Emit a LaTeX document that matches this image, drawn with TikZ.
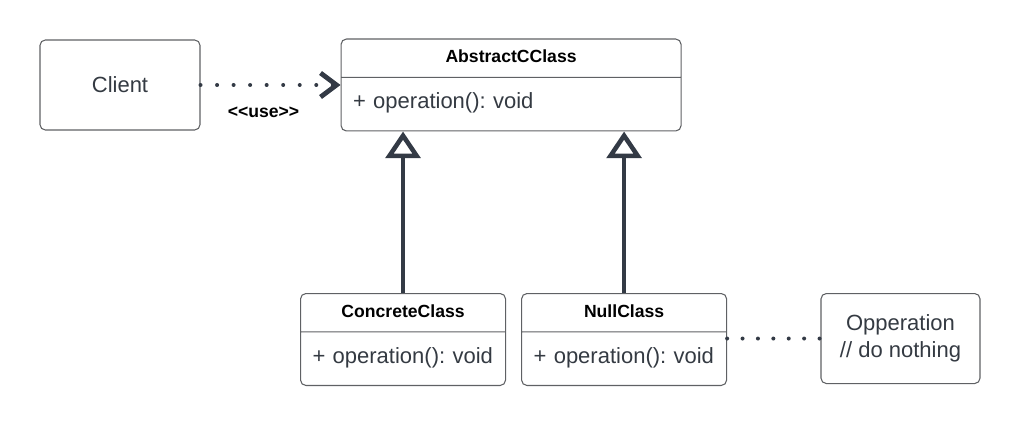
\documentclass[tikz,border=0pt]{standalone}
\usepackage{fontspec}
\setmainfont{Liberation Sans}
\usetikzlibrary{arrows.meta, positioning, shapes.multipart}

\definecolor{linegray}{RGB}{51,58,69}
\definecolor{boxgray}{RGB}{95,97,100}
\definecolor{textgray}{RGB}{52,58,66}

\newcommand{\headstrut}{\rule[-10.75pt]{0pt}{28pt}}
\newcommand{\bodystrut}{\rule[-16.1pt]{0pt}{39.35pt}}
\frenchspacing

\begin{document}
\begin{tikzpicture}[
        x=0.75pt, y=-0.75pt,
        box/.style={rectangle, rounded corners=4pt, draw=boxgray, line width=0.8pt, text=textgray, font=\fontsize{16.5}{20.25}\selectfont, align=center, minimum width=120pt, minimum height=67.5pt},
        umlclass/.style={rectangle split, rectangle split parts=2, rounded corners=4pt, draw=boxgray, line width=0.8pt, inner xsep=8pt, inner ysep=0pt, align=left, text=textgray, font=\fontsize{16.5}{20}\selectfont},
        classname/.style={font=\fontsize{13.2}{16}\selectfont\bfseries},
        dots/.style={draw=linegray, line width=3pt, line cap=round, dash pattern=on 0pt off 12.4pt},
        inherit/.style={draw=linegray, line width=3.4pt, -{Triangle[open, length=20pt, width=26pt]}}
    ]
        \useasboundingbox (0,0) rectangle (1020,424);

        \node[box] (client) at (120,85) {Client};
        \node[umlclass, text width=239pt, right=105pt of client.east, anchor=west] (abs)
            {{\noindent\centering\color{black}\bfseries\fontsize{13.2}{16}\selectfont\headstrut AbstractCClass\par}
             \nodepart{two}\noindent\hspace{1pt}\bodystrut + operation(): void};
        \node[umlclass, text width=137.75pt, anchor=north west] (conc) at (300,293)
            {{\noindent\centering\color{black}\bfseries\fontsize{13.2}{16}\selectfont\headstrut ConcreteClass\par}
             \nodepart{two}\noindent\hspace{1pt}\bodystrut + operation(): void};
        \node[umlclass, text width=137.75pt, right=11.25pt of conc] (null)
            {{\noindent\centering\color{black}\bfseries\fontsize{13.2}{16}\selectfont\headstrut NullClass\par}
             \nodepart{two}\noindent\hspace{1pt}\bodystrut + operation(): void};
        \node[box, minimum width=119.25pt, right=70pt of null.north east, anchor=north west] (opp) {Opperation\\// do nothing};

        \draw[dots, -{Straight Barb[length=12pt, width=18pt, line width=3.6pt]}] (client) -- node[pos=0.45, below=15pt, inner sep=0pt, classname] {<{}<use>{}>} (abs);
        \draw[inherit] (conc.north) -- (conc.north |- abs.south);
        \draw[inherit] (null.north) -- (null.north |- abs.south);
        \draw[dots, dash pattern=on 0pt off 11.55pt] (null.north east |- opp.west) -- (opp.west);
    \end{tikzpicture}
\end{document}
